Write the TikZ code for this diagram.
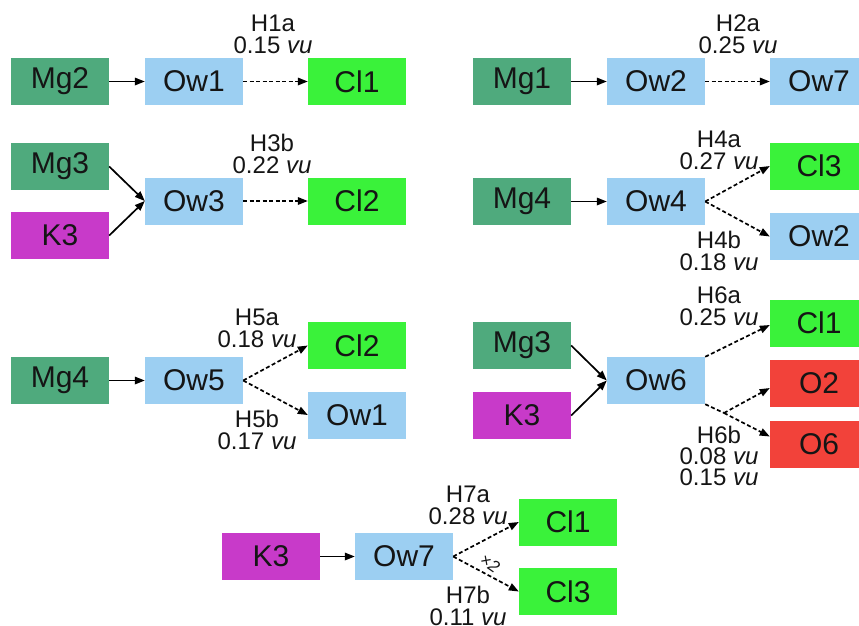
\documentclass[tikz,border=0pt]{standalone}
\usepackage{fontspec}
\setmainfont{Liberation Sans}
\usetikzlibrary{arrows.meta}

\definecolor{mgcol}{HTML}{4FAA7D}
\definecolor{owcol}{HTML}{9CCFF2}
\definecolor{clcol}{HTML}{3AF23A}
\definecolor{kcol}{HTML}{C83AC9}
\definecolor{ocol}{HTML}{F2423A}
\definecolor{txt}{HTML}{151515}

\tikzset{
  atom/.style={minimum width=98pt, minimum height=47pt, inner sep=0pt,
    text=txt, font=\fontsize{30}{30}\selectfont},
  mg/.style={atom, fill=mgcol},
  ow/.style={atom, fill=owcol},
  cl/.style={atom, fill=clcol},
  kk/.style={atom, fill=kcol},
  ox/.style={atom, fill=ocol},
  hlab/.style={align=center, inner sep=0pt, text=txt,
    font=\fontsize{24}{22}\selectfont},
  coord/.style={line width=1.7pt, -{Triangle[length=10pt,width=7.5pt]}},
  hbond/.style={line width=1.7pt, dash pattern=on 4pt off 2.5pt,
    -{Triangle[length=10pt,width=7.5pt]}},
  hbondplain/.style={line width=1.7pt, dash pattern=on 4pt off 2.5pt},
}

\begin{document}
\begin{tikzpicture}[x=1pt, y=-1pt]
\useasboundingbox (0,0) rectangle (859,625);

% --- H1a: Mg2 -> Ow1 ... Cl1
\node[mg] (mg2a) at (60,81.5) {Mg2};
\node[ow] (ow1a) at (194,81.5) {Ow1};
\node[cl] (cl1a) at (357,81.5) {Cl1};
\draw[coord] (mg2a) -- (ow1a);
\draw[hbond] (ow1a) -- (cl1a);
\node[hlab] (h1a) at (273,34) {H1a\\0.15 \textit{vu}};

% --- H2a: Mg1 -> Ow2 ... Ow7
\node[mg] (mg1b) at (522,81.5) {Mg1};
\node[ow] (ow2b) at (656,81.5) {Ow2};
\node[ow] (ow7b) at (819,81.5) {Ow7};
\draw[coord] (mg1b) -- (ow2b);
\draw[hbond] (ow2b) -- (ow7b);
\node[hlab] (h2a) at (738,34) {H2a\\0.25 \textit{vu}};

% --- H3b: Mg3, K3 -> Ow3 ... Cl2
\node[mg] (mg3c) at (60,166.5) {Mg3};
\node[kk] (k3c) at (60,235.5) {K3};
\node[ow] (ow3c) at (194,201) {Ow3};
\node[cl] (cl2c) at (357,201) {Cl2};
\draw[coord] (mg3c.east) -- (ow3c.west);
\draw[coord] (k3c.east) -- (ow3c.west);
\draw[hbond] (ow3c) -- (cl2c);
\node[hlab] (h3b) at (272,154) {H3b\\0.22 \textit{vu}};

% --- H4a/H4b: Mg4 -> Ow4 ... Cl3, Ow2
\node[mg] (mg4d) at (522,201.5) {Mg4};
\node[ow] (ow4d) at (656,201.5) {Ow4};
\node[cl] (cl3d) at (819,166) {Cl3};
\node[ow] (ow2d) at (819,236.5) {Ow2};
\draw[coord] (mg4d) -- (ow4d);
\draw[hbond] (ow4d.east) -- (cl3d.west);
\draw[hbond] (ow4d.east) -- (ow2d.west);
\node[hlab] (h4a) at (719,150) {H4a\\0.27 \textit{vu}};
\node[hlab] (h4b) at (719,251) {H4b\\0.18 \textit{vu}};

% --- H5a/H5b: Mg4 -> Ow5 ... Cl2, Ow1
\node[mg] (mg4e) at (60,380.5) {Mg4};
\node[ow] (ow5e) at (194,380.5) {Ow5};
\node[cl] (cl2e) at (357,345.5) {Cl2};
\node[ow] (ow1e) at (357,415) {Ow1};
\draw[coord] (mg4e) -- (ow5e);
\draw[hbond] (ow5e.east) -- (cl2e.west);
\draw[hbond] (ow5e.east) -- (ow1e.west);
\node[hlab] (h5a) at (257,328) {H5a\\0.18 \textit{vu}};
\node[hlab] (h5b) at (257,430) {H5b\\0.17 \textit{vu}};

% --- H6a/H6b: Mg3, K3 -> Ow6 ... Cl1, O2, O6
\node[mg] (mg3f) at (522,345.5) {Mg3};
\node[kk] (k3f) at (522,415.5) {K3};
\node[ow] (ow6f) at (656,380.5) {Ow6};
\node[cl] (cl1f) at (819,323) {Cl1};
\node[ox] (o2f) at (819,383) {O2};
\node[ox] (o6f) at (819,444.5) {O6};
\draw[coord] (mg3f.east) -- (ow6f.west);
\draw[coord] (k3f.east) -- (ow6f.west);
\draw[hbond] (ow6f.north east) -- ([yshift=-2pt]cl1f.west);
\coordinate (split6) at (724,413);
\draw[hbondplain] (ow6f.south east) -- (split6);
\draw[hbond] (split6) -- ([yshift=-5pt]o2f.west);
\draw[hbond] (split6) -- ([yshift=8pt]o6f.west);
\node[hlab] (h6a) at (719,306) {H6a\\0.25 \textit{vu}};
\node[hlab, font=\fontsize{24}{21}\selectfont] (h6b) at (719,456)
  {H6b\\0.08 \textit{vu}\\0.15 \textit{vu}};

% --- H7a/H7b: K3 -> Ow7 ... Cl1, Cl3 (x2)
\node[kk] (k3g) at (271,556.5) {K3};
\node[ow] (ow7g) at (404,556.5) {Ow7};
\node[cl] (cl1g) at (568,522) {Cl1};
\node[cl] (cl3g) at (568,591.5) {Cl3};
\draw[coord] (k3g) -- (ow7g);
\draw[hbond] (ow7g.east) -- (cl1g.west);
\draw[hbond] (ow7g.east) -- (cl3g.west);
\node[text=txt, inner sep=0pt, rotate=-35, font=\fontsize{17}{17}\selectfont\itshape]
  (x2g) at (490,563) {×2};
\node[hlab] (h7a) at (468,505) {H7a\\0.28 \textit{vu}};
\node[hlab] (h7b) at (468,606) {H7b\\0.11 \textit{vu}};
\end{tikzpicture}
\end{document}
